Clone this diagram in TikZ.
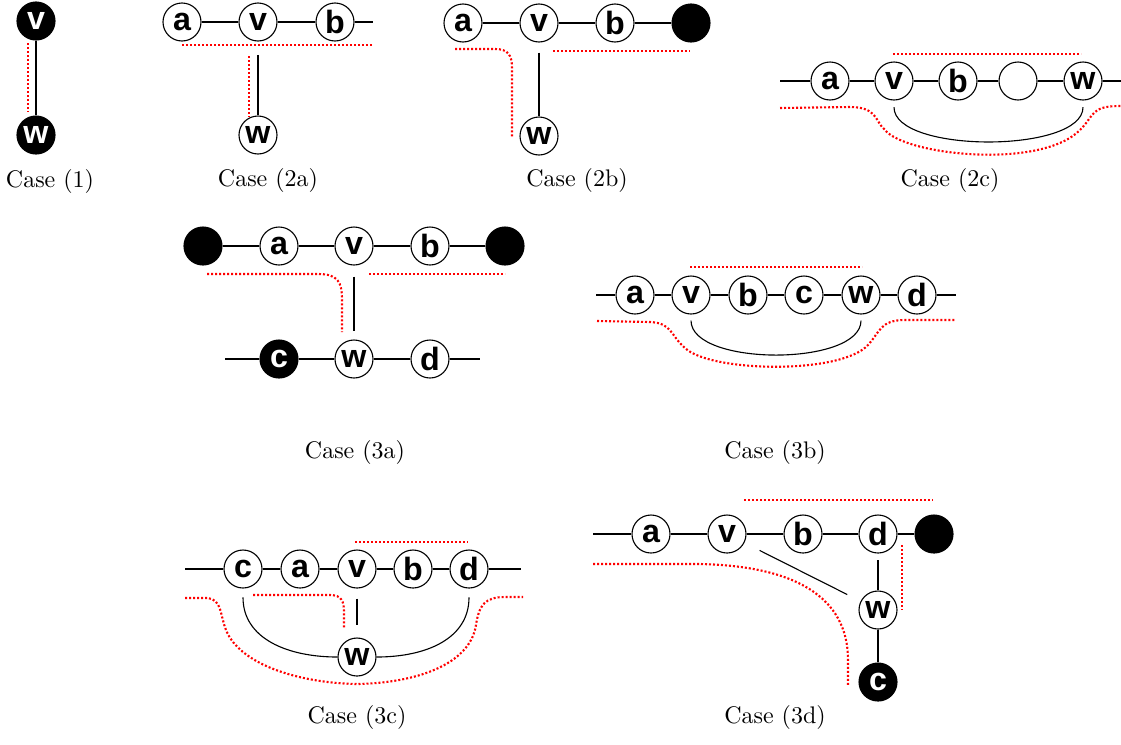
\documentclass[tikz,border=0pt]{standalone}
\usepackage{fontspec}
\newfontfamily\vfam{Liberation Sans}
\newcommand\vfont{\vfam\bfseries\fontsize{14.5}{15}\selectfont}
\newcommand\cfont{\fontsize{10.8}{13}\selectfont}
\begin{document}
\begin{tikzpicture}[x=0.45pt,y=-0.45pt,
  vtx/.style={circle, draw, line width=0.5pt, fill=white, minimum size=17.1pt, inner sep=0pt,
              font=\vfont},
  bvtx/.style={vtx, fill=black, text=white},
  edge/.style={line width=0.5pt},
  cut/.style={red, line width=0.95pt, dash pattern=on 0.9pt off 0.9pt},
  captext/.style={font=\cfont}]
\useasboundingbox (0,0) rectangle (1121,744);

% ---------- Case (1)
\node[bvtx] (Av) at (36,21) {v};
\node[bvtx] (Aw) at (36,135) {w};
\draw[edge] (Av) -- (Aw);
\draw[cut] (28,43) -- (28,112);
\node[captext] (Acap) at (50,181) {Case (1)};

% ---------- Case (2a)
\node[vtx] (Ba) at (182,22) {a};
\node[vtx] (Bv) at (258,22) {v};
\node[vtx] (Bb) at (335,22) {b};
\coordinate (Br) at (373,22);
\node[vtx] (Bw) at (258,135) {w};
\draw[edge] (Ba) -- (Bv) -- (Bb) -- (Br);
\draw[edge, shorten <=6pt] (Bv) -- (Bw);
\draw[cut] (182,45) -- (372,45);
\draw[cut] (249,56) -- (249,117);
\node[captext] (Bcap) at (268,180) {Case (2a)};

% ---------- Case (2b)
\node[vtx] (Ca) at (463,23) {a};
\node[vtx] (Cv) at (539,23) {v};
\node[vtx] (Cb) at (615,23) {b};
\node[bvtx] (Cx) at (691,23) {};
\node[vtx] (Cw) at (539,136) {w};
\draw[edge] (Ca) -- (Cv) -- (Cb) -- (Cx);
\draw[edge, shorten <=4.5pt] (Cv) -- (Cw);
\draw[cut] (455,49) -- (495,49) .. controls (508,49) and (512,55) .. (512,68) -- (512,137);
\draw[cut] (553,51) -- (690,51);
\node[captext] (Ccap) at (577,180) {Case (2b)};

% ---------- Case (2c)
\coordinate (Dl) at (780,81);
\node[vtx] (Da) at (830,81) {a};
\node[vtx] (Dv) at (894,81) {v};
\node[vtx] (Db) at (958,81) {b};
\node[vtx] (De) at (1018,81) {};
\node[vtx] (Dw) at (1083,81) {w};
\coordinate (Dr) at (1121,81);
\draw[edge] (Dl) -- (Da) -- (Dv) -- (Db) -- (De) -- (Dw) -- (Dr);
\draw[edge, shorten <=3pt, shorten >=3pt] (Dv.south) .. controls +(0,53) and +(0,53) .. (Dw.south);
\draw[cut] (893,54) -- (1081,54);
\draw[cut] (780,108) -- (850,107) .. controls (878,107) and (875,122) .. (885,130)
   .. controls (905,155) and (1040,170) .. (1080,130)
   .. controls (1095,115) and (1090,106) .. (1121,106);
\node[captext] (Dcap) at (950,180) {Case (2c)};

% ---------- Case (3a)
\node[bvtx] (El) at (203,246) {};
\node[vtx] (Ea) at (279,246) {a};
\node[vtx] (Ev) at (354,246) {v};
\node[vtx] (Eb) at (430,246) {b};
\node[bvtx] (Er) at (505,246) {};
\coordinate (Ebl) at (225,359);
\node[bvtx] (Ec) at (279,359) {c};
\node[vtx] (Ew) at (354,359) {w};
\node[vtx] (Ed) at (430,359) {d};
\coordinate (Ebr) at (480,359);
\draw[edge] (El) -- (Ea) -- (Ev) -- (Eb) -- (Er);
\draw[edge] (Ebl) -- (Ec) -- (Ew) -- (Ed) -- (Ebr);
\draw[edge, shorten <=5pt, shorten >=3.6pt] (Ev) -- (Ew);
\draw[cut] (207,274) -- (318,274) .. controls (338,274) and (342,282) .. (342,300) -- (342,332);
\draw[cut] (369,274) -- (505,274);
\node[captext] (Ecap) at (355,452) {Case (3a)};

% ---------- Case (3b)
\coordinate (Fl) at (596,295);
\node[vtx] (Fa) at (635,295) {a};
\node[vtx] (Fv) at (691,295) {v};
\node[vtx] (Fb) at (748,295) {b};
\node[vtx] (Fc) at (804,295) {c};
\node[vtx] (Fw) at (861,295) {w};
\node[vtx] (Fd) at (917,295) {d};
\coordinate (Fr) at (956,295);
\draw[edge] (Fl) -- (Fa) -- (Fv) -- (Fb) -- (Fc) -- (Fw) -- (Fd) -- (Fr);
\draw[edge, shorten <=2.7pt, shorten >=2.7pt] (Fv.south) .. controls +(0,52) and +(0,52) .. (Fw.south);
\draw[cut] (690,267) -- (862,267);
\draw[cut] (597,321) -- (650,322) .. controls (672,323) and (670,335) .. (685,348)
   .. controls (710,372) and (840,375) .. (868,345)
   .. controls (880,332) and (880,320) .. (905,320) -- (956,320);
\node[captext] (Fcap) at (775,452) {Case (3b)};

% ---------- Case (3c)
\coordinate (Gl) at (185,569);
\node[vtx] (Gc) at (243,569) {c};
\node[vtx] (Ga) at (300,569) {a};
\node[vtx] (Gv) at (357,569) {v};
\node[vtx] (Gb) at (413,569) {b};
\node[vtx] (Gd) at (469,569) {d};
\coordinate (Gr) at (521,569);
\node[vtx] (Gw) at (357,657) {w};
\draw[edge] (Gl) -- (Gc) -- (Ga) -- (Gv) -- (Gb) -- (Gd) -- (Gr);
\draw[edge, shorten <=4.5pt, shorten >=5.4pt] (Gv) -- (Gw);
\draw[edge, shorten <=4pt] (Gc.south) .. controls +(0,50) and +(-50,0) .. (Gw.west);
\draw[edge, shorten <=4pt] (Gd.south) .. controls +(0,50) and +(50,0) .. (Gw.east);
\draw[cut] (355,542) -- (468,542);
\draw[cut] (253,595) -- (330,595) .. controls (342,595) and (344,602) .. (344,612) -- (344,628);
\draw[cut] (185,598) -- (208,598) .. controls (222,600) and (220,615) .. (226,630)
   .. controls (240,665) and (300,683) .. (357,684)
   .. controls (415,683) and (470,665) .. (476,625)
   .. controls (479,605) and (485,597) .. (505,597) -- (523,597);
\node[captext] (Gcap) at (357,717) {Case (3c)};

% ---------- Case (3d)
\coordinate (Hl) at (593,534);
\node[vtx] (Ha) at (651,534) {a};
\node[vtx] (Hv) at (727,534) {v};
\node[vtx] (Hb) at (803,534) {b};
\node[vtx] (Hd) at (878,534) {d};
\node[bvtx] (Hx) at (934,534) {};
\node[vtx] (Hw) at (878,610) {w};
\node[bvtx] (Hc) at (878,682) {c};
\draw[edge] (Hl) -- (Ha) -- (Hv) -- (Hb) -- (Hd) -- (Hx);
\draw[edge, shorten <=3pt] (Hd) -- (Hw);
\draw[edge] (Hw) -- (Hc);
\draw[edge, shorten <=7.6pt, shorten >=6.7pt] (Hv) -- (Hw);
\draw[cut] (744,500) -- (933,500);
\draw[cut] (902,545) -- (902,610);
\draw[cut] (593,564) -- (700,564) .. controls (795,566) and (848,597) .. (848,660) -- (848,685);
\node[captext] (Hcap) at (775,717) {Case (3d)};
\end{tikzpicture}
\end{document}
